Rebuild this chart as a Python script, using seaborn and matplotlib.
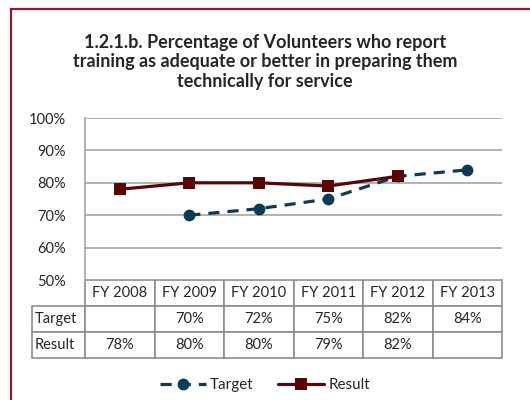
import numpy as np
import pandas as pd
import matplotlib
matplotlib.use("Agg")
import matplotlib.pyplot as plt
from matplotlib.patches import Rectangle
import seaborn as sns

# --- data ---
years = ["FY 2008", "FY 2009", "FY 2010", "FY 2011", "FY 2012", "FY 2013"]
target = [np.nan, 70, 72, 75, 82, 84]
result = [78, 80, 80, 79, 82, np.nan]
y_ticks = [50, 60, 70, 80, 90, 100]
title = ("1.2.1.b. Percentage of Volunteers who report\n"
         "training as adequate or better in preparing them\n"
         "technically for service")

TARGET_C = "#0D3B56"
RESULT_C = "#5A0508"
GRID_C = "#A6A6A6"

sns.set_theme(style="white")
plt.rcParams["font.family"] = ["Lato", "DejaVu Sans"]

pos = np.arange(len(years))
df = pd.concat([
    pd.DataFrame({"x": pos, "value": target, "series": "Target"}),
    pd.DataFrame({"x": pos, "value": result, "series": "Result"}),
]).dropna()

fig = plt.figure(figsize=(5.3, 4.0), dpi=100)
ax = fig.add_axes([85/530, 1 - 280/400, (502-85)/530, (280-118)/400])

sns.lineplot(data=df, x="x", y="value", hue="series", style="series",
             hue_order=["Target", "Result"], style_order=["Target", "Result"],
             palette={"Target": TARGET_C, "Result": RESULT_C},
             markers={"Target": "o", "Result": "s"},
             dashes={"Target": (3.5, 2.5), "Result": ""},
             linewidth=2.3, markersize=8.5, markeredgewidth=0,
             ax=ax, legend=True)

ax.set_xlim(-0.5, len(years) - 0.5)
ax.set_ylim(50, 100)
ax.set_yticks(y_ticks)
ax.set_yticklabels([f"{v}%" for v in y_ticks], fontsize=10.5)
ax.tick_params(axis="y", pad=14, length=0)
ax.set_xticks([])
ax.set_xlabel("")
ax.set_ylabel("")
ax.yaxis.grid(True, color=GRID_C, linewidth=1.2)
for s in ["top", "right", "bottom"]:
    ax.spines[s].set_visible(False)
ax.spines["left"].set_color(GRID_C)
ax.spines["left"].set_linewidth(1.2)

# data table under the plot
fmt = lambda v: "" if np.isnan(v) else f"{int(v)}%"
cells = [["Target"] + [fmt(v) for v in target],
         ["Result"] + [fmt(v) for v in result]]
lab_w = 53 / 417
col_w = 1 / len(years)
tbl = ax.table(cellText=cells, colLabels=[""] + years,
               colWidths=[lab_w] + [col_w] * len(years),
               cellLoc="center",
               bbox=[-lab_w, -(358 - 280) / 162, 1 + lab_w, 78 / 162])
tbl.auto_set_font_size(False)
for (r, c), cell in tbl.get_celld().items():
    cell.set_edgecolor("#8C8C8C")
    cell.set_linewidth(1.2)
    cell.get_text().set_fontsize(10.5)
    if c == 0:
        cell.get_text().set_ha("left")
        cell._loc = "left"
        cell.PAD = 0.05
tbl[0, 0].visible_edges = ""

# legend at the bottom
handles, labels = ax.get_legend_handles_labels()
ax.get_legend().remove()
fig.legend(handles, labels, loc="center", bbox_to_anchor=(0.5, 1 - 385/400),
           ncol=2, frameon=False, fontsize=11, handlelength=3.0,
           columnspacing=1.6, handletextpad=0.3)

fig.text(0.5, 1 - 62/400, title, ha="center", va="center", fontsize=13,
         fontweight="bold", linespacing=1.2)

fig.patches.append(Rectangle((11/530, -0.2), 1.5, 1.2 - 9/400,
                             transform=fig.transFigure, fill=False,
                             edgecolor="#8E1B2E", linewidth=1.6))

fig.savefig("out.png", dpi=100)
